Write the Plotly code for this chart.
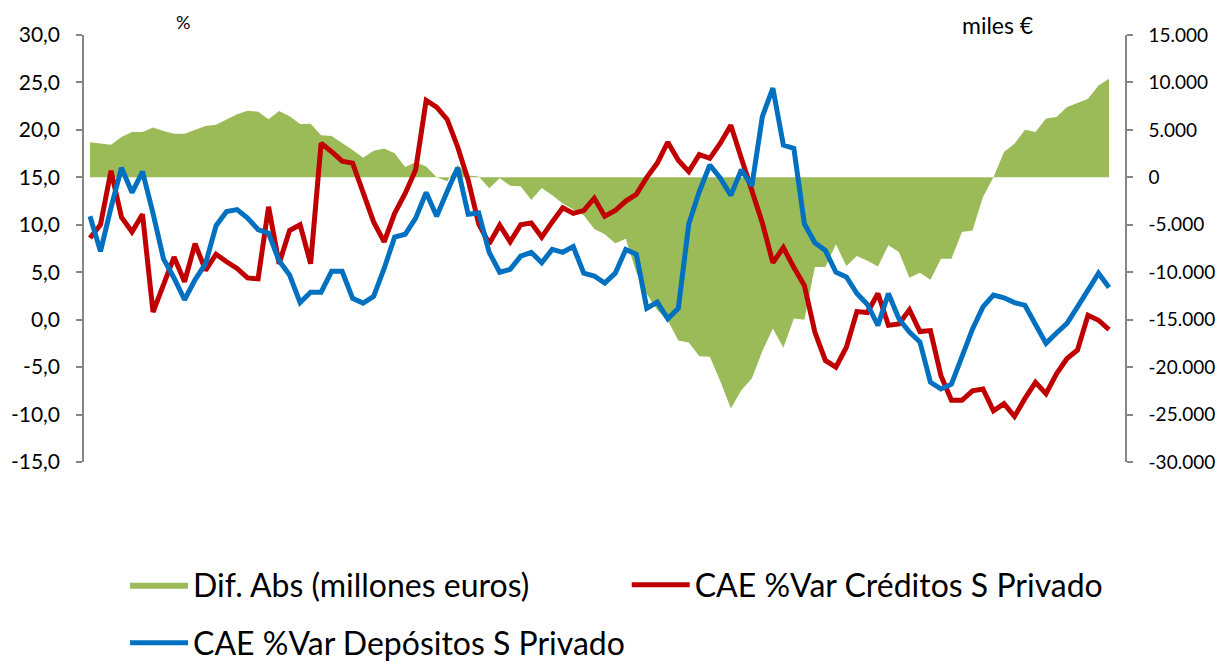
import plotly.graph_objects as go

# Monthly series (98 periods)
dif_abs = [
    3700, 3550, 3440, 4250, 4780, 4780, 5240, 4880, 4600, 4600,
    5020, 5400, 5550, 6080, 6640, 7030, 6920, 6110, 7000, 6430,
    5620, 5640, 4430, 4350, 3620, 2880, 2060, 2800, 3050, 2530,
    1090, 1600, 1130, 0, -400, 1300, 200, 100, -1150, -100,
    -880, -950, -2380, -1120, -1900, -2770, -3400, -4000, -5450, -6000,
    -6950, -6460, -10000, -12300, -14000, -15100, -17200, -17400, -18860, -18900,
    -21500, -24370, -22450, -21210, -18300, -15940, -17950, -14890, -15000, -9450,
    -9450, -7060, -9350, -8300, -8780, -9400, -7170, -7870, -10570, -10060,
    -10800, -8570, -8570, -5760, -5590, -2070, 0, 2670, 3550, 5020,
    4780, 6190, 6360, 7410, 7830, 8290, 9690, 10400,
]

creditos = [
    8.6, 10.0, 15.7, 10.8, 9.25, 11.1, 0.8, 3.8, 6.6, 4.0,
    8.0, 5.2, 6.9, 6.1, 5.4, 4.4, 4.3, 11.9, 5.9, 9.4,
    10.0, 5.9, 18.6, 17.7, 16.7, 16.5, 13.5, 10.3, 8.2, 11.2,
    13.3, 15.8, 23.1, 22.4, 21.1, 18.2, 14.7, 10.1, 8.0, 9.96,
    8.2, 10.0, 10.2, 8.7, 10.3, 11.8, 11.2, 11.5, 12.8, 10.9,
    11.5, 12.5, 13.2, 15.0, 16.5, 18.7, 16.8, 15.6, 17.4, 17.0,
    18.6, 20.5, 17.0, 13.8, 10.2, 6.0, 7.6, 5.5, 3.6, -1.3,
    -4.3, -5.0, -2.9, 0.85, 0.75, 2.75, -0.6, -0.45, 1.05, -1.25,
    -1.15, -5.9, -8.5, -8.5, -7.5, -7.3, -9.6, -8.85, -10.2, -8.3,
    -6.6, -7.8, -5.7, -4.1, -3.2, 0.46, -0.06, -1.04,
]

depositos = [
    10.9, 7.2, 11.8, 16.0, 13.4, 15.6, 11.2, 6.4, 4.4, 2.1,
    4.2, 5.9, 9.9, 11.4, 11.6, 10.7, 9.5, 9.1, 6.2, 4.7,
    1.8, 2.9, 2.9, 5.1, 5.1, 2.25, 1.75, 2.45, 5.4, 8.7,
    9.0, 10.7, 13.4, 10.9, 13.5, 16.0, 11.1, 11.25, 7.1, 5.0,
    5.3, 6.7, 7.1, 6.0, 7.4, 7.1, 7.7, 4.9, 4.6, 3.85,
    4.9, 7.4, 6.9, 1.2, 1.85, 0.1, 1.2, 10.1, 13.5, 16.3,
    14.9, 13.1, 15.8, 14.1, 21.4, 24.4, 18.4, 18.05, 10.1, 8.1,
    7.3, 5.0, 4.5, 2.75, 1.6, -0.6, 2.75, 0.1, -1.3, -2.35,
    -6.6, -7.3, -6.8, -3.75, -1.0, 1.35, 2.6, 2.3, 1.8, 1.5,
    -0.6, -2.5, -1.4, -0.4, 1.35, 3.2, 4.9, 3.4,
]

periods = list(range(len(creditos)))

left_ticks = [-15, -10, -5, 0, 5, 10, 15, 20, 25, 30]
left_labels = ["-15,0", "-10,0", "-5,0", "0,0", "5,0", "10,0", "15,0", "20,0", "25,0", "30,0"]
right_ticks = [-30000, -25000, -20000, -15000, -10000, -5000, 0, 5000, 10000, 15000]
right_labels = ["-30.000", "-25.000", "-20.000", "-15.000", "-10.000", "-5.000", "0",
                "5.000", "10.000", "15.000"]

GREEN = "#9BBB59"
RED = "#C00000"
BLUE = "#0070C0"
AXIS = "#868686"
FONT = "Lato"

fig = go.Figure()

# Area - absolute difference (right axis, base layer so the lines sit on top)
fig.add_trace(go.Scatter(
    x=periods, y=dif_abs, yaxis="y", mode="lines",
    fill="tozeroy", fillcolor=GREEN, line=dict(width=0, color=GREEN),
    name="Dif. Abs (millones euros)", legend="legend",
))

# Lines (left axis, overlaying)
fig.add_trace(go.Scatter(
    x=periods, y=creditos, yaxis="y2", mode="lines",
    line=dict(color=RED, width=5),
    name="CAE %Var Créditos S Privado", legend="legend2",
))
fig.add_trace(go.Scatter(
    x=periods, y=depositos, yaxis="y2", mode="lines",
    line=dict(color=BLUE, width=5),
    name="CAE %Var Depósitos S Privado", legend="legend3",
))

legend_style = dict(
    orientation="h", font=dict(family=FONT, size=32, color="black"),
    bgcolor="rgba(0,0,0,0)", itemwidth=58, yanchor="middle", xanchor="left",
    xref="container", yref="container",
)

axis_style = dict(
    showline=True, linecolor=AXIS, linewidth=1.5,
    ticks="outside", ticklen=6, tickcolor=AXIS, tickwidth=1.5,
    showgrid=False, zeroline=False, automargin=False,
)

# page body adds an 8px margin, so the figure is sized/offset to compensate
fig.update_layout(
    width=1218, height=653,
    margin=dict(l=76, r=101, t=27, b=199),
    paper_bgcolor="white", plot_bgcolor="white",
    font=dict(family=FONT, color="black"),
    xaxis=dict(range=[-0.57, 98.52], visible=False),
    yaxis=dict(range=[-30000, 15000], side="right", ticklabelstandoff=12,
               tickfont=dict(size=19),
               tickvals=right_ticks, ticktext=right_labels, **axis_style),
    yaxis2=dict(range=[-15, 30], side="left", overlaying="y", ticklabelstandoff=12,
                tickfont=dict(size=21),
                tickvals=left_ticks, ticktext=left_labels, **axis_style),
    legend=dict(x=0.0961, y=0.1164, **legend_style),
    legend2=dict(x=0.508, y=0.1164, **legend_style),
    legend3=dict(x=0.0961, y=0.0276, **legend_style),
    showlegend=True,
)

fig.add_annotation(text="%", xref="paper", yref="paper", x=0.0951, y=1.030,
                   xanchor="center", yanchor="middle",
                   showarrow=False, font=dict(size=18))
fig.add_annotation(text="miles €", xref="paper", yref="paper", x=0.878, y=1.023,
                   xanchor="center", yanchor="middle",
                   showarrow=False, font=dict(size=23))

fig.write_html("out.html")
